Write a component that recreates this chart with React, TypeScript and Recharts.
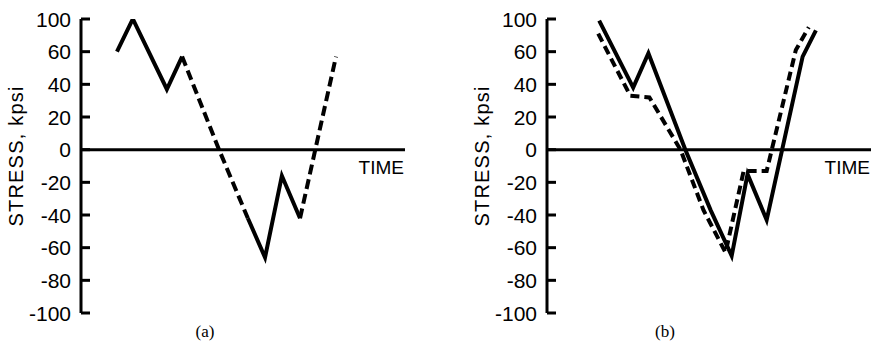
import React from "react";
import { LineChart, Line, XAxis, YAxis, ReferenceLine } from "recharts";

// y ticks sit at evenly spaced positions; the top one is printed "100" in the source figure
const yTicks = [80, 60, 40, 20, 0, -20, -40, -60, -80, -100];
const yTickLabels = ["100", "60", "40", "20", "0", "-20", "-40", "-60", "-80", "-100"];

// panel (a): one load history, partly solid, partly dashed
const timeA = [11.1, 16, 26.5, 31.2, 42.6, 51.5, 56.8, 62, 67.6, 78.7];
const stressA = [60, 80, 37, 57, 0, -42, -66, -16, -42, 57];
const solidSegmentsA = [[0, 3], [5, 8]];
const dashedSegmentsA = [[3, 5], [8, 9]];

// panel (b): two load histories
const timeSolidB = [16.1, 26.6, 31.3, 42.7, 50.5, 57, 61.9, 67.8, 78.9, 83];
const stressSolidB = [79, 38, 59, 0, -37, -65, -15, -43, 57, 73];
const timeDashedB = [15.8, 25.7, 31.6, 41.2, 48.3, 55.1, 60.7, 67.8, 76.8, 80.8];
const stressDashedB = [71, 33, 32, 0, -37, -63, -13, -13, 61, 75];

const font = "'Liberation Sans', Arial, sans-serif";

const toRows = (t: number[], s: number[], from = 0, to = t.length - 1) =>
  t.slice(from, to + 1).map((v, i) => ({ t: v, stress: s[from + i] }));

const YTick = (props: any) => {
  const { x, y, payload, index } = props;
  return (
    <g>
      <line x1={x} x2={x + 9} y1={y} y2={y} stroke="#000" strokeWidth={3} />
      <text x={x - 10} y={y} dy="0.36em" textAnchor="end" fontSize={21} fontFamily={font} fill="#000">
        {yTickLabels[index] ?? payload.value}
      </text>
    </g>
  );
};

const timeLabel = (props: any) => {
  const { viewBox } = props;
  return (
    <text
      x={viewBox.x + viewBox.width - 1}
      y={viewBox.y + 24}
      textAnchor="end"
      fontSize={19}
      fontFamily={font}
      fill="#000"
    >
      TIME
    </text>
  );
};

const Panel = ({ children, tag, tagX }: { children: React.ReactNode; tag: string; tagX: number }) => (
  <LineChart width={410} height={343} margin={{ top: 19, right: 5, bottom: 30, left: 0 }}>
    <XAxis type="number" dataKey="t" domain={[0, 100]} hide allowDataOverflow />
    <YAxis
      type="number"
      domain={[-100, 80]}
      ticks={yTicks}
      interval={0}
      width={81}
      tickSize={0}
      tickMargin={0}
      tickLine={false}
      axisLine={{ stroke: "#000", strokeWidth: 3 }}
      tick={<YTick />}
      allowDataOverflow
    />
    <ReferenceLine y={0} stroke="#000" strokeWidth={3} label={timeLabel} />
    {children}
    <text
      x={16}
      y={156}
      transform="rotate(-90 16 156)"
      textAnchor="middle"
      dominantBaseline="central"
      fontSize={20}
      letterSpacing={1.2}
      fontFamily={font}
      fill="#000"
    >
      STRESS, kpsi
    </text>
    <text x={tagX} y={337} textAnchor="middle" fontSize={17} fontFamily="'Liberation Serif', serif" fill="#000">
      {tag}
    </text>
  </LineChart>
);

const lineProps = {
  type: "linear" as const,
  dataKey: "stress",
  stroke: "#000",
  strokeWidth: 4,
  dot: false,
  activeDot: false,
  isAnimationActive: false,
};

export default function App() {
  return (
    <div
      style={{
        position: "absolute",
        left: 0,
        top: 0,
        width: 877,
        height: 343,
        background: "#fff",
        overflow: "hidden",
      }}
    >
      <div style={{ position: "absolute", left: 0, top: 0 }}>
        <Panel tag="(a)" tagX={205}>
          {solidSegmentsA.map(([a, b], i) => (
            <Line key={`sa${i}`} {...lineProps} data={toRows(timeA, stressA, a, b)} />
          ))}
          {dashedSegmentsA.map(([a, b], i) => (
            <Line key={`da${i}`} {...lineProps} strokeDasharray="10 5" data={toRows(timeA, stressA, a, b)} />
          ))}
        </Panel>
      </div>
      <div style={{ position: "absolute", left: 466, top: 0 }}>
        <Panel tag="(b)" tagX={199}>
          <Line {...lineProps} data={toRows(timeSolidB, stressSolidB)} />
          <Line {...lineProps} strokeDasharray="9 5" data={toRows(timeDashedB, stressDashedB)} />
        </Panel>
      </div>
    </div>
  );
}
